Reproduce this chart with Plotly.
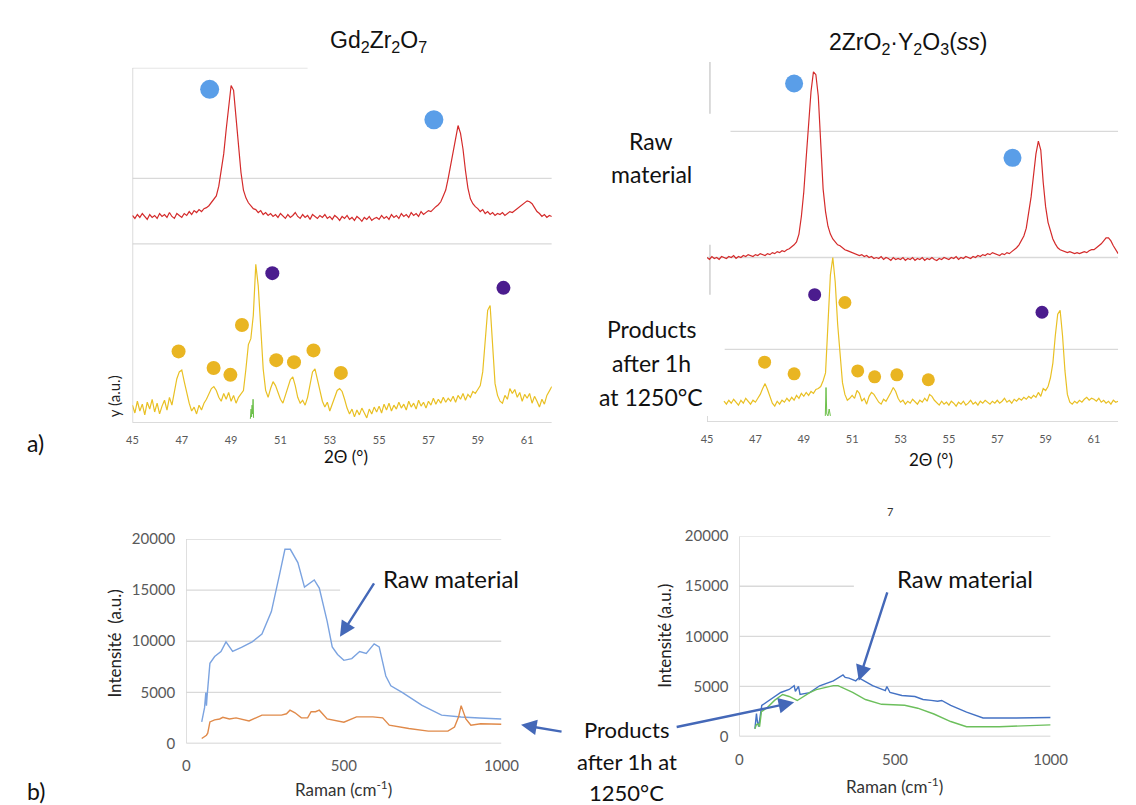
import plotly.graph_objects as go

W, H = 1136, 805

# ---------------- XRD data (2theta grid 45.0 .. 62.0, step 0.1) ----------------
two_theta = [round(45 + 0.1 * i, 1) for i in range(171)]

gd_raw = [
    212, 209, 213, 210, 214, 211, 208, 213, 210, 212,
    209, 214, 211, 213, 210, 215, 211, 209, 214, 212,
    210, 214, 212, 216, 213, 217, 215, 218, 216, 219,
    220, 222, 225, 228, 232, 242, 257, 275, 300, 325,
    345, 340, 314, 282, 256, 238, 230, 225, 222, 219,
    218, 215, 217, 213, 215, 212, 214, 211, 213, 210,
    214, 211, 209, 213, 210, 212, 215, 211, 209, 213,
    210, 212, 208, 213, 211, 209, 212, 210, 213, 209,
    211, 208, 212, 210, 207, 211, 209, 212, 208, 210,
    207, 211, 209, 206, 210, 208, 211, 207, 209, 210,
    208, 212, 209, 211, 208, 213, 210, 212, 209, 214,
    211, 213, 210, 215, 212, 214, 211, 216, 213, 215,
    217, 216, 219, 221, 223, 226, 232, 238, 250, 264,
    280, 294, 304, 296, 280, 258, 240, 229, 224, 221,
    219, 216, 218, 214, 216, 213, 215, 212, 214, 213,
    215, 212, 214, 216, 215, 217, 219, 221, 223, 225,
    227, 226, 224, 220, 216, 214, 211, 213, 210, 212,
    211,
]
gd_products = [
    18, 10, 22, 12, 19, 8, 21, 14, 24, 11,
    20, 9, 17, 23, 13, 26, 18, 32, 45, 52,
    54, 42, 30, 20, 12, 16, 9, 18, 13, 20,
    24, 30, 35, 37, 33, 26, 22, 30, 24, 31,
    22, 28, 20, 26, 30, 33, 55, 80, 86, 110,
    162, 140, 98, 55, 33, 26, 35, 42, 38, 30,
    24, 20, 28, 36, 44, 47, 38, 26, 20, 23,
    18, 26, 40, 52, 55, 44, 30, 22, 16, 21,
    12, 19, 26, 33, 35, 32, 24, 15, 9, 14,
    6, 13, 8, 15, 10, 5, 14, 9, 16, 11,
    17, 10, 19, 13, 20, 12, 18, 14, 21, 15,
    19, 13, 22, 16, 20, 14, 23, 17, 21, 15,
    22, 18, 25, 19, 24, 20, 26, 21, 25, 22,
    27, 21, 28, 24, 30, 23, 29, 26, 32, 30,
    34, 38, 52, 81, 115, 120, 84, 40, 28, 22,
    20, 28, 24, 35, 30, 34, 26, 31, 22, 29,
    25, 30, 20, 27, 22, 16, 24, 19, 28, 33,
    37,
]
gd_green_x = [49.78, 49.81, 49.83, 49.85, 49.87, 49.89, 49.91]
gd_green_y = [4, 14, 6, 18, 9, 24, 5]

zy_raw = [
    168, 166, 169, 167, 168, 166, 169, 168, 167, 169,
    168, 170, 167, 169, 168, 170, 169, 171, 170, 169,
    171, 170, 172, 171, 170, 172, 171, 173, 172, 174,
    173, 175, 174, 176, 177, 179, 181, 184, 192, 210,
    235, 270, 305, 338, 358, 355, 333, 280, 238, 215,
    200, 192, 187, 184, 181, 180, 178, 176, 175, 174,
    173, 172, 171, 170, 171, 169, 170, 168, 169, 167,
    168, 167, 169, 166, 168, 167, 165, 168, 166, 167,
    166, 168, 165, 167, 166, 168, 165, 167, 166, 168,
    165, 167, 166, 168, 166, 165, 167, 166, 168, 167,
    166, 168, 167, 169, 166, 168, 167, 169, 168, 167,
    169, 168, 170, 169, 171, 170, 172, 171, 173, 172,
    171, 170, 172, 171, 173, 172, 174, 176, 178, 181,
    185, 190, 198, 212, 230, 252, 274, 287, 278, 245,
    220, 204, 194, 187, 182, 178, 176, 175, 174, 173,
    174, 173, 172, 173, 172, 173, 174, 173, 175, 176,
    176, 178, 180, 182, 185, 188, 188, 185, 180, 176,
    172,
]
zy_theta_products = [round(45.7 + 0.1 * i, 1) for i in range(164)]
zy_products = [
    21, 18, 22,
    19, 23, 20, 17, 22, 19, 24, 21, 18, 22,
    20, 24, 28, 34, 39, 33, 25, 19, 16, 21,
    18, 22, 20, 24, 21, 25, 22, 27, 24, 29,
    26, 30, 27, 31, 29, 33, 34, 36, 42, 50,
    100, 150, 168, 143, 100, 68, 40, 28, 22, 24,
    27, 24, 32, 29, 21, 24, 18, 26, 30, 28,
    24, 20, 18, 23, 21, 25, 30, 35, 31, 24,
    20, 22, 18, 21, 19, 23, 20, 18, 22, 20,
    24, 21, 28, 26, 22, 19, 17, 21, 18, 20,
    17, 21, 19, 16, 20, 18, 21, 17, 19, 22,
    18, 20, 17, 21, 19, 22, 20, 18, 21, 19,
    22, 19, 21, 24, 20, 22, 19, 23, 21, 24,
    22, 25, 23, 26, 24, 27, 25, 30, 26, 34,
    32, 36, 45, 60, 88, 110, 114, 88, 52, 28,
    20, 18, 21, 19, 22, 20, 23, 25, 22, 24,
    23, 21, 24, 20, 22, 19, 21, 18, 22, 20,
    21,
]
zy_green_x = [49.89, 49.92, 49.95, 50.0, 50.05, 50.1]
zy_green_y = [6, 35, 8, 6, 13, 6]

# phase markers (2theta, a.u.)
gd_blue_x, gd_blue_y = [48.13, 57.22], [341, 310]
gd_purple_x, gd_purple_y = [50.67, 60.04], [153, 138]
gd_gold_x = [46.87, 48.29, 48.97, 49.44, 50.83, 51.55, 52.34, 53.45]
gd_gold_y = [73, 56, 49, 100, 64, 62, 74, 51]

zy_blue_x, zy_blue_y = [48.6, 57.63], [346, 270]
zy_purple_x, zy_purple_y = [49.45, 58.85], [130, 112]
zy_gold_x = [47.38, 48.6, 50.7, 51.23, 51.93, 52.85, 54.15]
zy_gold_y = [61, 49, 122, 52, 46, 48, 43]

xrd_ticks = [45, 47, 49, 51, 53, 55, 57, 59, 61]

# ---------------- Raman data ----------------
gd_raman_raw_x = [49, 58, 62, 64, 66, 75, 90, 110, 126, 147, 175, 209, 240, 270, 297, 313, 330,
                  354, 375, 390, 406, 422, 447, 463, 480, 500, 525, 550, 571, 596, 612, 633, 649,
                  686, 748, 810, 872, 930, 1000]
gd_raman_raw_y = [2100, 3500, 4970, 3700, 4600, 7840, 8500, 9000, 9940, 9000, 9400, 9940, 10700,
                  12900, 16700, 19000, 19000, 17700, 15300, 15600, 16000, 15200, 11950, 9450, 8700,
                  8130, 8300, 8990, 8800, 9750, 9450, 6600, 5640, 4970, 3730, 2770, 2580, 2480, 2390]
gd_raman_prod_x = [49, 58, 64, 68, 75, 90, 106, 116, 137, 158, 199, 240, 302, 318, 329, 345, 365,
                   385, 396, 410, 422, 447, 500, 540, 592, 623, 644, 706, 768, 830, 851, 864, 872,
                   887, 903, 934, 1000]
gd_raman_prod_y = [480, 700, 800, 1000, 2100, 2300, 2390, 2550, 2390, 2500, 2200, 2770, 2770, 2900,
                   3250, 3000, 2500, 2500, 3100, 3100, 3250, 2400, 2070, 2600, 2600, 2500, 1780,
                   1460, 1200, 1200, 1600, 2600, 3700, 2400, 1780, 1930, 1870]

zy_raman_raw_x = [50, 55, 58, 62, 72, 102, 133, 160, 176, 180, 190, 195, 226, 258, 302, 333, 340,
                  352, 374, 384, 428, 469, 474, 484, 522, 564, 590, 616, 637, 650, 679, 730, 783,
                  888, 1000]
zy_raman_raw_y = [780, 2300, 1500, 1000, 3100, 3700, 4400, 4700, 5080, 4500, 5000, 4200, 4390,
                  5070, 5560, 6150, 5900, 5830, 5560, 5860, 5080, 4590, 5000, 4400, 4100, 4000,
                  3700, 3610, 3520, 3600, 3120, 2440, 1860, 1850, 1900]
zy_raman_prod_x = [50, 55, 60, 65, 71, 90, 113, 139, 160, 186, 226, 247, 302, 317, 364, 405, 457,
                   531, 573, 625, 679, 730, 835, 1000]
zy_raman_prod_y = [780, 1200, 1270, 1000, 2480, 2900, 3610, 4200, 4000, 3600, 4390, 4680, 5080,
                   5080, 4400, 3700, 3220, 3120, 2830, 2250, 1500, 980, 980, 1170]

raman_ticks = [0, 5000, 10000, 15000, 20000]
raman_tick_text = ["0", "5000", "10000", "15000", "20000"]
raman_x_ticks = [0, 500, 1000]

# ---------------- styles ----------------
RED = "#d42b2b"
YEL = "#e9c024"
GREEN = "#6cc04a"
BLUE_DOT = "#5a9ee8"
PURPLE = "#4b1c8e"
GOLD = "#e9b522"
GRID = "#d9d9d9"
ARROW = "#4468b8"
TICKC = "#595959"
TXT = "#111111"
SANS = "Lato, 'Open Sans', sans-serif"
ARIAL = "'Liberation Sans', Arial, sans-serif"


def fx(p):
    return p / W


def fy(p):
    return 1 - p / H


fig = go.Figure()


def line(x, y, color, xa, ya, width=1.2):
    fig.add_trace(go.Scatter(x=x, y=y, mode="lines", line=dict(color=color, width=width),
                             xaxis=xa, yaxis=ya, hoverinfo="skip", showlegend=False))


def dots(x, y, color, size, xa, ya):
    fig.add_trace(go.Scatter(x=x, y=y, mode="markers", marker=dict(color=color, size=size, line=dict(width=0)),
                             xaxis=xa, yaxis=ya, hoverinfo="skip", showlegend=False))


# XRD left
line(two_theta, gd_raw, RED, "x", "y")
line(two_theta, gd_products, YEL, "x", "y")
line(gd_green_x, gd_green_y, GREEN, "x", "y", 1.0)
dots(gd_blue_x, gd_blue_y, BLUE_DOT, 19, "x", "y")
dots(gd_purple_x, gd_purple_y, PURPLE, 14, "x", "y")
dots(gd_gold_x, gd_gold_y, GOLD, 14, "x", "y")

# XRD right
line(two_theta, zy_raw, RED, "x2", "y2")
line(zy_theta_products, zy_products, YEL, "x2", "y2")
line(zy_green_x, zy_green_y, GREEN, "x2", "y2", 1.0)
dots(zy_blue_x, zy_blue_y, BLUE_DOT, 18, "x2", "y2")
dots(zy_purple_x, zy_purple_y, PURPLE, 13, "x2", "y2")
dots(zy_gold_x, zy_gold_y, GOLD, 13, "x2", "y2")

# Raman
line(gd_raman_raw_x, gd_raman_raw_y, "#7ba3e0", "x3", "y3", 1.4)
line(gd_raman_prod_x, gd_raman_prod_y, "#e08a4a", "x3", "y3", 1.4)
line(zy_raman_raw_x, zy_raman_raw_y, "#4472c4", "x4", "y4", 1.4)
line(zy_raman_prod_x, zy_raman_prod_y, "#6cbf5c", "x4", "y4", 1.4)

# ---------------- axes ----------------
common = dict(showgrid=False, zeroline=False, showline=False, fixedrange=True, ticks="")

xrd_x = dict(common, range=[45, 62], tickvals=xrd_ticks, ticktext=[str(v) for v in xrd_ticks],
             tickfont=dict(family=SANS, size=11, color=TICKC), ticklabelstandoff=9)
raman_x = dict(common, range=[0, 1000], tickvals=raman_x_ticks, ticktext=[str(v) for v in raman_x_ticks],
               tickfont=dict(family=SANS, size=15, color=TICKC), ticklabelstandoff=12)
raman_y = dict(common, range=[0, 20000], tickvals=raman_ticks, ticktext=raman_tick_text,
               tickfont=dict(family=SANS, size=15, color=TICKC), ticklabelstandoff=10)

fig.update_layout(
    width=W, height=H, margin=dict(l=0, r=0, t=0, b=0),
    paper_bgcolor="white", plot_bgcolor="rgba(0,0,0,0)", showlegend=False,
    xaxis=dict(xrd_x, domain=[fx(121), fx(549.4)], anchor="y"),
    yaxis=dict(common, domain=[fy(414), fy(51)], range=[0, 363], showticklabels=False, anchor="x"),
    xaxis2=dict(xrd_x, domain=[fx(708), fx(1128)], anchor="y2"),
    yaxis2=dict(common, domain=[fy(413), fy(45)], range=[0, 368], showticklabels=False, anchor="x2"),
    xaxis3=dict(raman_x, domain=[fx(176), fx(498)], anchor="y3"),
    yaxis3=dict(raman_y, domain=[fy(742), fy(533)], anchor="x3"),
    xaxis4=dict(raman_x, domain=[fx(741), fx(1059)], anchor="y4"),
    yaxis4=dict(raman_y, domain=[fy(735), fy(530)], anchor="x4"),
)

# ---------------- frame / grid shapes ----------------
shapes = []


def seg(xref, yref, x0, y0, x1, y1, color=GRID, width=1.3):
    shapes.append(dict(type="line", xref=xref, yref=yref, x0=x0, y0=y0, x1=x1, y1=y1,
                       line=dict(color=color, width=width), layer="below"))


# left XRD
seg("x", "y", 45, 363, 52.1, 363)
seg("x", "y", 45, 250, 62, 250)
seg("x", "y", 45, 183, 62, 183)
seg("x", "y", 45, 0, 62, 0, "#cfcfcf", 1.5)
seg("x", "y", 45, 0, 45, 363, "#cfcfcf", 1.5)
# right XRD
seg("x2", "y2", 45.97, 297, 62, 297)
seg("x2", "y2", 45.0, 168, 62, 168)
seg("x2", "y2", 45.73, 74, 62, 74)
seg("x2", "y2", 45, 0, 62, 0, "#cfcfcf", 1.5)
seg("x2", "y2", 45.12, 315, 45.12, 368, "#cfcfcf", 1.5)
seg("x2", "y2", 45.12, 130, 45.12, 181, "#cfcfcf", 1.5)
seg("x2", "y2", 45.0, 0, 45.0, 6, "#cfcfcf", 1.5)
# Raman left
for v in [20000, 10000, 5000]:
    seg("x3", "y3", 0, v, 1000, v)
seg("x3", "y3", 0, 15000, 488, 15000)
seg("x3", "y3", 0, 0, 1000, 0, "#c8c8c8", 1.5)
seg("x3", "y3", 0, 0, 0, 20000, "#d0d0d0", 1.3)
# Raman right
for v in [20000, 10000, 5000]:
    seg("x4", "y4", 0, v, 1000, v)
seg("x4", "y4", 0, 15000, 368, 15000)
seg("x4", "y4", 0, 0, 1000, 0, "#c8c8c8", 1.5)
seg("x4", "y4", 0, 0, 0, 20000, "#d0d0d0", 1.3)

fig.update_layout(shapes=shapes)

# ---------------- text ----------------
ann = []


def text(x, y, t, size, family=SANS, color=TXT, angle=0):
    ann.append(dict(x=fx(x), y=fy(y), xref="paper", yref="paper", text=t, showarrow=False,
                    font=dict(family=family, size=size, color=color), textangle=angle,
                    xanchor="center", yanchor="middle"))


def arrow(hx, hy, tx, ty):
    ann.append(dict(x=fx(hx), y=fy(hy), xref="paper", yref="paper", text="",
                    showarrow=True, ax=tx - hx, ay=ty - hy, arrowcolor=ARROW,
                    arrowwidth=2.4, arrowhead=2, arrowsize=1.3, standoff=0, startstandoff=0))


text(372, 24, "Gd<sub>2</sub>Zr<sub>2</sub>O<sub>7</sub>", 23, ARIAL)
text(913, 26, "2ZrO<sub>2</sub>·Y<sub>2</sub>O<sub>3</sub>(<i>ss</i>)", 23, ARIAL)

text(339, 449, "2Θ (°)", 17, SANS)
text(937, 452, "2Θ (°)", 17, SANS)
text(103, 387, "y (a.u.)", 15, SANS, "#222222", -90)

text(651, 126, "Raw", 23)
text(651, 160, "material", 23)
text(651, 318, "Products", 23)
text(651, 353, "after 1h", 23)
text(651, 388, "at 1250°C", 23)

text(22, 435, "a)", 23)
text(22, 791, "b)", 23)

text(103, 640, "Intensité  (a.u.)", 17, SANS, "#222222", -90)
text(665, 632, "Intensité (a.u.)", 17, SANS, "#222222", -90)
text(337, 788, "Raman (cm<sup>-1</sup>)", 17, SANS, "#333333")
text(900, 785, "Raman (cm<sup>-1</sup>)", 17, SANS, "#333333")
text(895, 505, "7", 11, SANS, "#333333")

text(446, 573, "Raw material", 24)
text(972, 573, "Raw material", 24)
text(626, 728, "Products", 22)
text(626, 761, "after 1h at", 22)
text(626, 792, "1250°C", 22)

arrow(333, 633, 368, 578)
arrow(518, 723, 560, 730)
arrow(797, 700, 678, 725)
arrow(863, 678, 892, 588)

fig.update_layout(annotations=ann)

fig.write_html("out.html")
